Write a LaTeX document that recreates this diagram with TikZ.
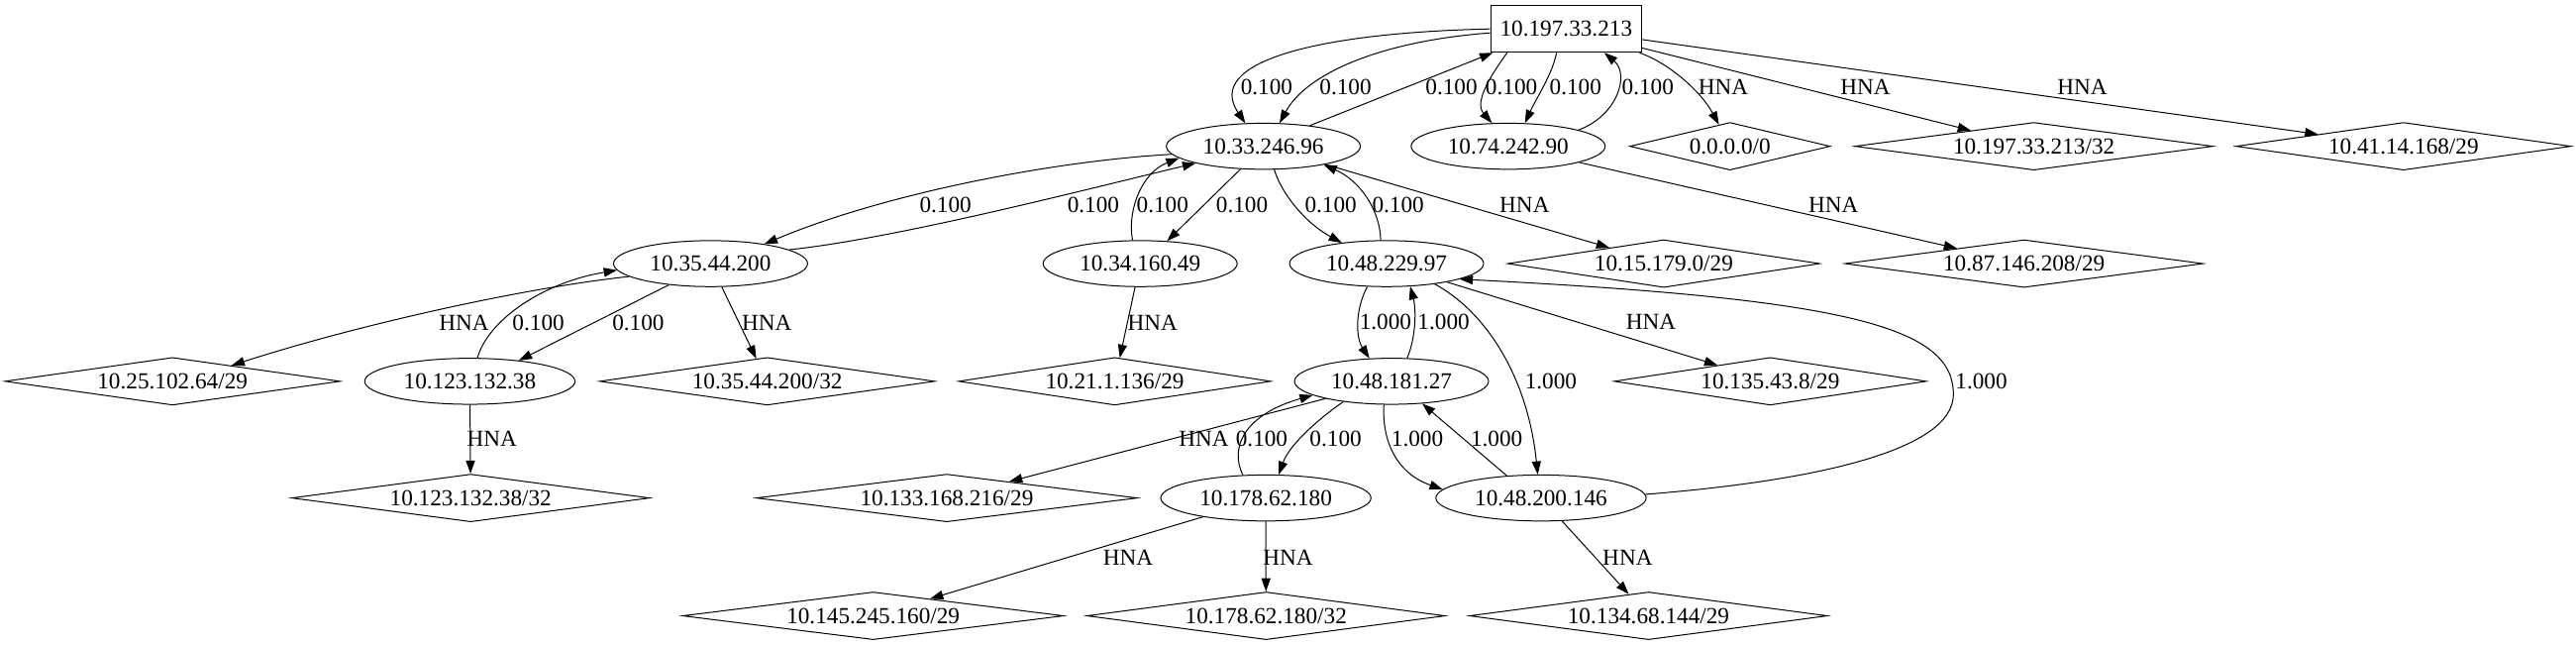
\documentclass[tikz,border=0pt]{standalone}
\usepackage{fontspec}
\setmainfont{Liberation Serif}
\usetikzlibrary{shapes.geometric,arrows.meta}
\begin{document}
\begin{tikzpicture}[x=1pt,y=-1pt,
  every node/.style={font=\fontsize{14}{16}\selectfont, text height=9.3pt, text depth=0pt},
  ell/.style={draw, ellipse, inner xsep=5pt, inner ysep=0pt, minimum height=28pt, line width=0.6pt},
  hna/.style={draw, diamond, aspect=6.5, inner sep=0pt, minimum height=29pt, line width=0.6pt},
  box/.style={draw, rectangle, inner xsep=5.75pt, inner ysep=0pt, minimum height=28.4pt, line width=0.6pt},
  e/.style={-{Triangle[length=8pt,width=5.5pt]}, line width=0.6pt},
  lbl/.style={inner sep=0pt}]
\useasboundingbox (0,0) rectangle (1568,392.4);
% nodes
\node[box] (A) at (953.3,17.6) {10.197.33.213};
\node[ell] (B) at (769,89) {10.33.246.96};
\node[ell] (C) at (918,89) {10.74.242.90};
\node[hna, minimum width=122pt] (h0) at (1053,89) {0.0.0.0/0};
\node[hna, minimum width=218pt] (hA32) at (1238,89) {10.197.33.213/32};
\node[hna, minimum width=204pt] (hA41) at (1463,89) {10.41.14.168/29};
\node[ell] (D) at (432.5,160.4) {10.35.44.200};
\node[ell] (E) at (694,160.4) {10.34.160.49};
\node[ell] (F) at (844,160.4) {10.48.229.97};
\node[hna, minimum width=190pt] (h15) at (1012.7,160.4) {10.15.179.0/29};
\node[hna, minimum width=218pt] (h87) at (1232,160.4) {10.87.146.208/29};
\node[hna, minimum width=204pt] (h25) at (105,232) {10.25.102.64/29};
\node[ell] (J) at (286,232) {10.123.132.38};
\node[hna, minimum width=204pt] (h35) at (467,232) {10.35.44.200/32};
\node[hna, minimum width=190pt] (h21) at (678.5,232) {10.21.1.136/29};
\node[ell] (G) at (847,232) {10.48.181.27};
\node[hna, minimum width=190pt] (h135) at (1077.5,232) {10.135.43.8/29};
\node[hna, minimum width=218pt] (hJ32) at (286.5,303) {10.123.132.38/32};
\node[hna, minimum width=232pt] (h133) at (576.3,303) {10.133.168.216/29};
\node[ell] (I) at (770.5,303) {10.178.62.180};
\node[ell] (H) at (938,303) {10.48.200.146};
\node[hna, minimum width=232pt] (h145) at (531.5,374.7) {10.145.245.160/29};
\node[hna, minimum width=218pt] (hI32) at (770.6,374.7) {10.178.62.180/32};
\node[hna, minimum width=218pt] (h134) at (1003.4,374.7) {10.134.68.144/29};
% edges
\draw[e] (A.west) .. controls (800,20) and (733,38) .. (B.128);
\draw[e] (A.183) .. controls (840,25) and (795,45) .. (B.55);
\draw[e] (B.24) -- (A.198);
\draw[e] (A.202) .. controls (908,45) and (897,62) .. (C.125);
\draw[e] (A.248) .. controls (945,45) and (935,60) .. (C.54);
\draw[e] (C.13) .. controls (985,70) and (992,45) .. (A.328);
\draw[e] (A.342) .. controls (1015,38) and (1035,55) .. (h0.117);
\draw[e] (A) -- (hA32);
\draw[e] (A) -- (hA41);
\draw[e] (B.185) .. controls (640,98) and (538,118) .. (D.20);
\draw[e] (D.10) .. controls (545,145) and (650,118) .. (B.194);
\draw[e] (E.108) .. controls (686,128) and (695,105) .. (B.188);
\draw[e] (B.225) -- (E.40);
\draw[e] (B.295) .. controls (780,118) and (795,136) .. (F.155);
\draw[e] (F.104) .. controls (840,128) and (828,110) .. (B.343);
\draw[e] (B) -- (h15);
\draw[e] (C) -- (h87);
\draw[e] (D.189) .. controls (320,175) and (220,197) .. (h25.15);
\draw[e] (J.72) .. controls (297,195) and (330,172) .. (D.184);
\draw[e] (D.207) -- (J.23);
\draw[e] (D) -- (h35);
\draw[e] (E) -- (h21);
\draw[e] (F.230) .. controls (825,188) and (825,205) .. (G.134);
\draw[e] (G.56) .. controls (862,205) and (862,188) .. (F.316);
\draw[e] (F.337) .. controls (905,190) and (930,230) .. (H.98);
\draw[e] (F.343) -- (h135);
\draw[e] (H.2) .. controls (1100,293) and (1189,275) .. (1189,240) .. controls (1189,200) and (1130,182) .. (F.348);
\draw[e] (H.147) -- (G.324);
\draw[e] (H) -- (h134);
\draw[e] (G.252) .. controls (841,268) and (850,288) .. (H.175);
\draw[e] (G) -- (h133);
\draw[e] (I.135) .. controls (748,272) and (758,252) .. (G.190);
\draw[e] (G.203) .. controls (805,253) and (785,270) .. (I.61);
\draw[e] (I) -- (h145);
\draw[e] (I) -- (hI32);
\draw[e] (J) -- (hJ32);
% edge labels
\node[lbl] (l1) at (771,53) {0.100};
\node[lbl] (l2) at (819,53) {0.100};
\node[lbl] (l3) at (883.5,53) {0.100};
\node[lbl] (l4) at (920,53) {0.100};
\node[lbl] (l5) at (959,53) {0.100};
\node[lbl] (l6) at (1003,53) {0.100};
\node[lbl] (l7) at (1049,53) {HNA};
\node[lbl] (l8) at (1135.5,53) {HNA};
\node[lbl] (l9) at (1267.5,53) {HNA};
\node[lbl] (l10) at (575.5,124.6) {0.100};
\node[lbl] (l11) at (665.5,124.6) {0.100};
\node[lbl] (l12) at (707.6,124.6) {0.100};
\node[lbl] (l13) at (756,124.6) {0.100};
\node[lbl] (l14) at (810,124.6) {0.100};
\node[lbl] (l15) at (851,124.6) {0.100};
\node[lbl] (l16) at (928,124.6) {HNA};
\node[lbl] (l17) at (1116,124.6) {HNA};
\node[lbl] (l18) at (282.5,196.5) {HNA};
\node[lbl] (l19) at (327.7,196.5) {0.100};
\node[lbl] (l20) at (388.5,196.5) {0.100};
\node[lbl] (l21) at (466.7,196.5) {HNA};
\node[lbl] (l22) at (701.6,196.3) {HNA};
\node[lbl] (l23) at (843.3,196) {1.000};
\node[lbl] (l24) at (878.7,196) {1.000};
\node[lbl] (l25) at (944,232) {1.000};
\node[lbl] (l26) at (1005,196) {HNA};
\node[lbl] (l27) at (1206,232) {1.000};
\node[lbl] (l28) at (911,267.2) {1.000};
\node[lbl] (l29) at (990.7,339) {HNA};
\node[lbl] (l30) at (862.7,267.2) {1.000};
\node[lbl] (l31) at (732.8,267.2) {HNA};
\node[lbl] (l32) at (768,267.2) {0.100};
\node[lbl] (l33) at (813,267.2) {0.100};
\node[lbl] (l34) at (686.7,339) {HNA};
\node[lbl] (l35) at (784,339) {HNA};
\node[lbl] (l36) at (299.5,267.2) {HNA};
\end{tikzpicture}
\end{document}
